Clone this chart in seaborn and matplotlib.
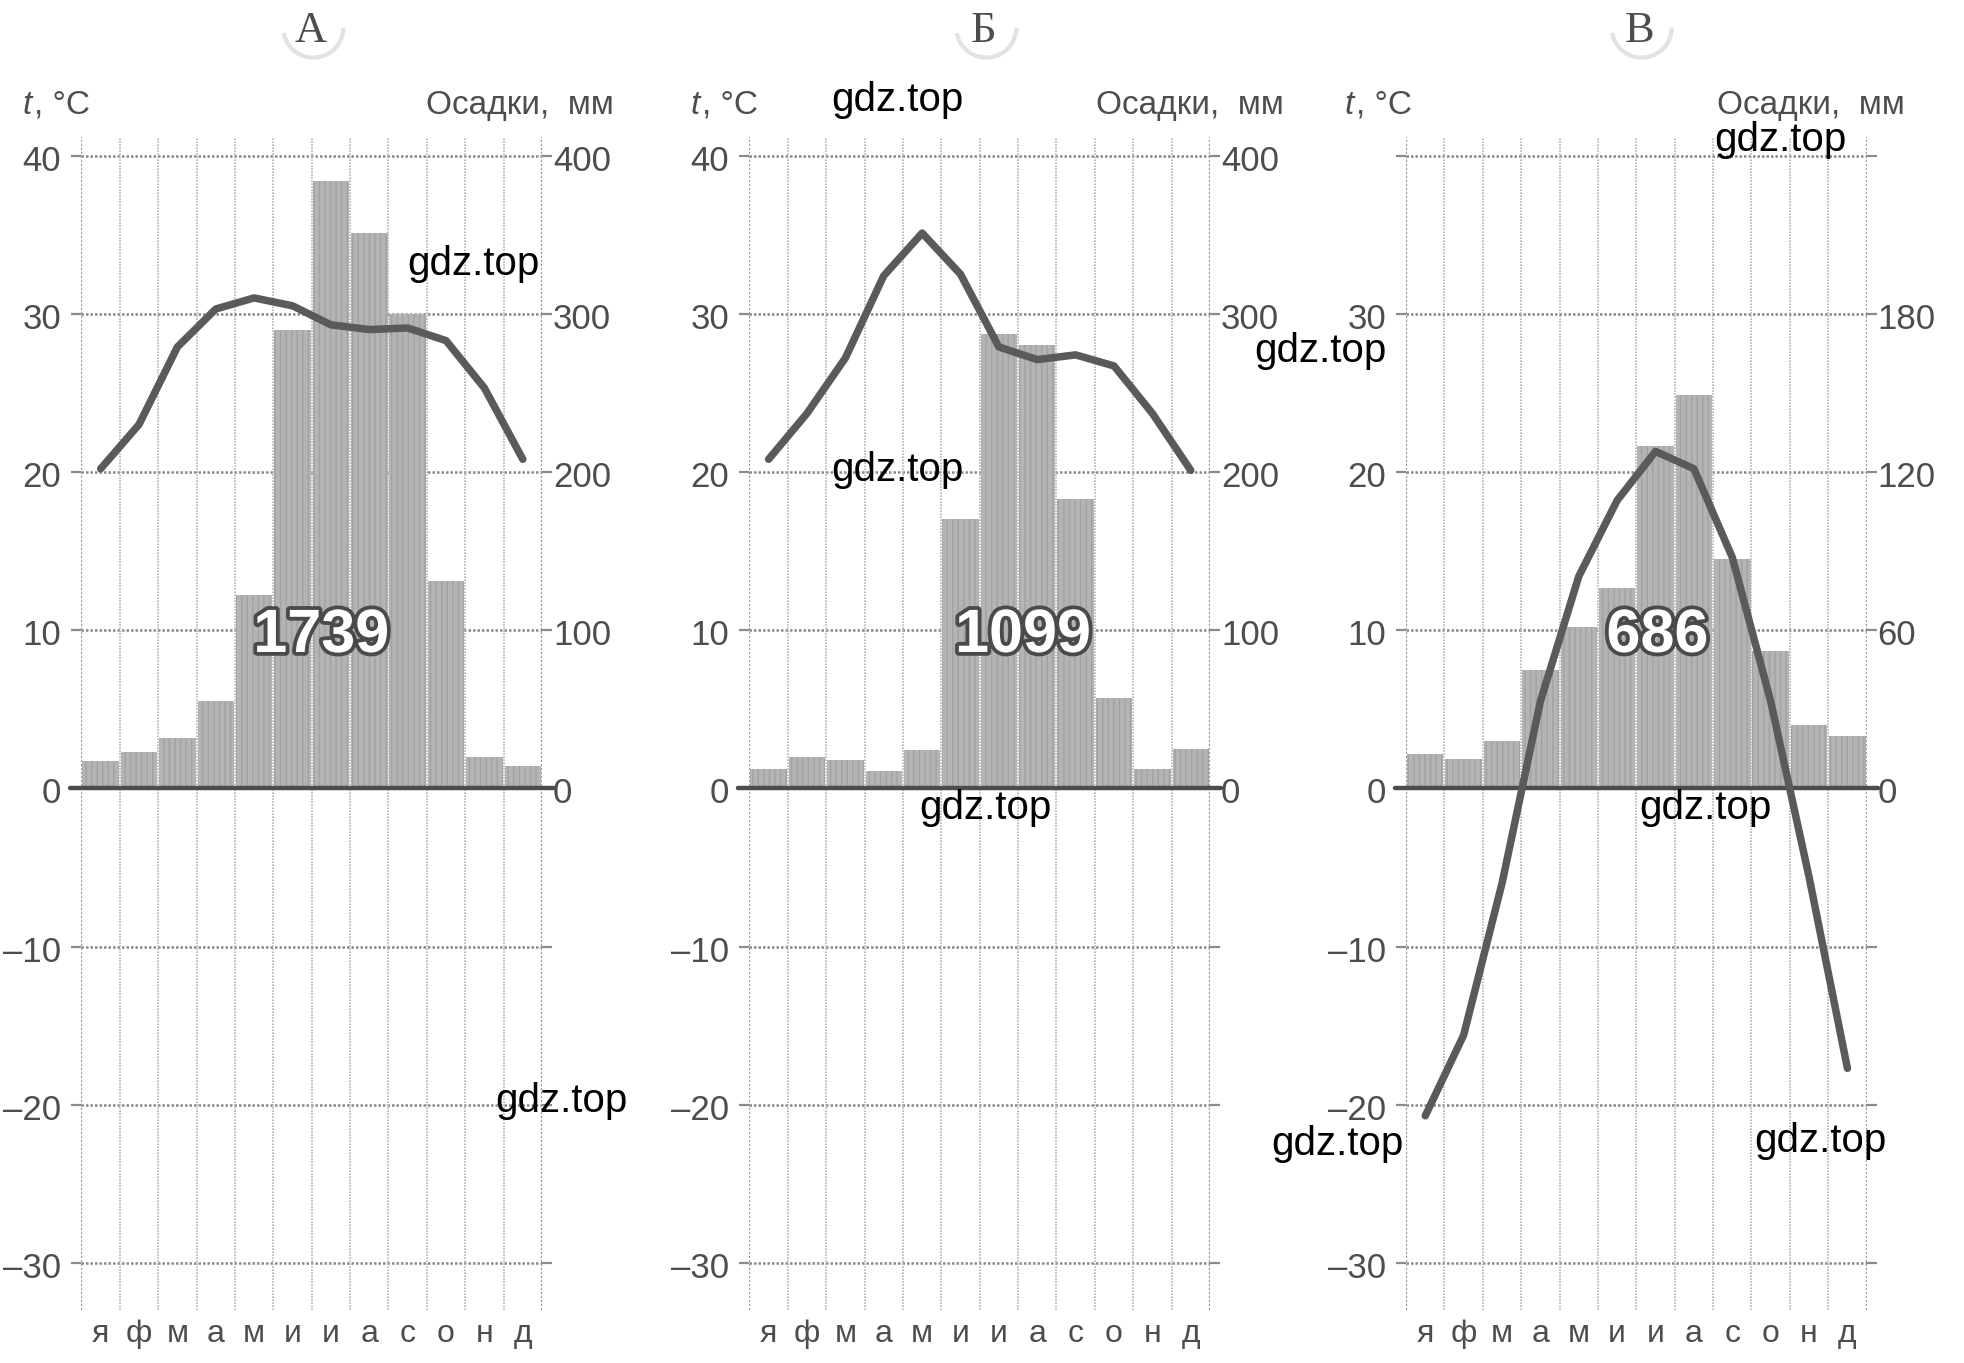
import numpy as np
import matplotlib
matplotlib.use("Agg")
import matplotlib.pyplot as plt
import matplotlib.patheffects as pe
import matplotlib.transforms as mtransforms
from matplotlib.patches import Arc
import seaborn as sns

# --- data ---
MONTHS = ["я", "ф", "м", "а", "м", "и", "и", "а", "с", "о", "н", "д"]
PANEL_NAMES = ["А", "Б", "В"]
TOTALS = ["1739", "1099", "686"]

temp_a = [20.2, 23.0, 27.9, 30.3, 31.0, 30.5, 29.3, 29.0, 29.1, 28.3, 25.3, 20.8]
prec_a = [17, 23, 32, 55, 122, 290, 384, 351, 300, 131, 20, 14]

temp_b = [20.8, 23.7, 27.2, 32.4, 35.1, 32.5, 27.9, 27.1, 27.4, 26.7, 23.7, 20.1]
prec_b = [12, 20, 18, 11, 24, 170, 287, 280, 183, 57, 12, 25]

temp_c = [-20.7, -15.6, -6.0, 5.5, 13.4, 18.2, 21.3, 20.2, 14.6, 5.5, -5.6, -17.7]
prec_c = [13, 11, 18, 45, 61, 76, 130, 149, 87, 52, 24, 20]

grid_temps = [-30, -20, -10, 0, 10, 20, 30, 40]
left_ticks_ab = [-30, -20, -10, 0, 10, 20, 30, 40]
left_ticks_c = [-30, -20, -10, 0, 10, 20, 30]
mm_per_deg = [10, 10, 6]
right_max = [400, 400, 180]

# --- style ---
TXT = "#4d4d4d"
GRID = "#8a8a8a"
VGRID = "#b4b4b4"
BAR = "#b4b4b4"
LINE = "#5a5a5a"
ZERO = "#4c4c4c"
YLIM = (-33.0, 41.2)

sns.set_style("white")
plt.rcParams["font.family"] = ["Liberation Sans", "DejaVu Sans"]

fig = plt.figure(figsize=(19.65, 13.63), dpi=100, facecolor="white")

W, H = 1568.0, 1088.0
lefts = [65, 598, 1122]
bottom = 1 - 1046 / H
height = (1046 - 109) / H
width = 367.5 / W

# tick labels sit a hair below their grid line in the original
down = mtransforms.ScaledTranslation(0, -2 / 100, fig.dpi_scale_trans)


def dash(v):
    return str(v).replace("-", "\u2013")


def draw_panel(i, temp, prec, left_ticks, total_x):
    k = mm_per_deg[i]
    ax = fig.add_axes([lefts[i] / W, bottom, width, height])
    axp = ax.twinx()
    ax.set_zorder(axp.get_zorder() + 1)
    ax.patch.set_visible(False)

    x = np.arange(12)
    # precipitation bars
    sns.barplot(x=x, y=prec, ax=axp, color=BAR, saturation=1, width=0.95,
                errorbar=None, edgecolor="#a2a2a2", linewidth=0, hatch="|||",
                zorder=2)
    # temperature curve
    sns.lineplot(x=x, y=temp, ax=ax, color=LINE, linewidth=5.4,
                 solid_capstyle="round", solid_joinstyle="round", zorder=5)

    ax.set_xlim(-0.5, 11.5)
    ax.set_ylim(*YLIM)
    axp.set_ylim(YLIM[0] * k, YLIM[1] * k)

    # horizontal grid (precip scale carries the lines + tick stubs)
    axp.set_yticks([t * k for t in grid_temps])
    axp.set_yticklabels([str(t * k) if 0 <= t * k <= right_max[i] else ""
                         for t in grid_temps])
    axp.yaxis.grid(True, linestyle=(0, (1, 0.8)), color=GRID, linewidth=1.8)
    axp.set_axisbelow(True)
    axp.tick_params(axis="y", left=True, right=True, labelleft=False,
                    labelright=True, length=7, width=1.6, color=GRID, pad=1,
                    labelsize=25, labelcolor=TXT)

    # month grid
    for b in np.arange(-0.5, 12, 1):
        edge = b in (-0.5, 11.5)
        axp.axvline(b, color="#999999" if edge else VGRID,
                    linewidth=1.6 if edge else 1.2,
                    linestyle=(0, (1, 0.8)), zorder=1)
    axp.axhline(0, xmin=-0.025, xmax=1.025, color=ZERO, linewidth=3.2,
                clip_on=False, zorder=3)

    ax.set_yticks(left_ticks)
    ax.set_yticklabels([dash(t) for t in left_ticks])
    ax.tick_params(axis="y", left=False, right=False, labelleft=True,
                   labelright=False, pad=11, labelsize=25, labelcolor=TXT)
    ax.set_xticks(x)
    ax.set_xticklabels(MONTHS)
    ax.tick_params(axis="x", length=0, pad=6, labelsize=23, labelcolor=TXT)
    for lab in ax.get_yticklabels() + axp.get_yticklabels():
        lab.set_transform(lab.get_transform() + down)
    ax.set_xlabel("")
    ax.set_ylabel("")
    axp.set_xlabel("")
    axp.set_ylabel("")
    for a in (ax, axp):
        for s in a.spines.values():
            s.set_visible(False)

    ax.text(total_x, 9.6, TOTALS[i], ha="center", va="center", fontsize=44,
            fontweight="bold", color="white", zorder=6,
            path_effects=[pe.withStroke(linewidth=5.5, foreground="#4a4a4a")])
    return ax


draw_panel(0, temp_a, prec_a, left_ticks_ab, 5.75)
draw_panel(1, temp_b, prec_b, left_ticks_ab, 6.63)
draw_panel(2, temp_c, prec_c, left_ticks_c, 6.05)

# panel letters with their faint round shadow
for name, cx in zip(PANEL_NAMES, [248, 785, 1308]):
    fig.text(cx / W, 1 - 25 / H, name, ha="center", va="center", fontsize=32,
             color=TXT, family=["Liberation Serif", "DejaVu Serif"])
    r = 24
    fig.patches.append(Arc(((cx + 2) / W, 1 - 22 / H), 2 * r / W, 2 * r / H,
                           theta1=195, theta2=360, color="#e2e2e2", lw=3,
                           transform=fig.transFigure))

# axis captions
for tx, rx in zip([18, 551, 1073], [490, 1024, 1520]):
    fig.text(tx / W, 1 - 84 / H, "t", style="italic", ha="left", va="center",
             fontsize=24, color=TXT)
    fig.text((tx + 9) / W, 1 - 84 / H, ", \u00b0C", ha="left", va="center",
             fontsize=24, color=TXT)
    fig.text(rx / W, 1 - 84 / H, "Осадки,  мм", ha="right", va="center",
             fontsize=24, color=TXT)

# watermarks
marks = [(378, 211), (716, 80), (1054, 280), (716, 375), (786, 645),
         (1421, 112), (1361, 645), (448, 879), (1067, 913), (1453, 911)]
for mx, my in marks:
    fig.text(mx / W, 1 - my / H, "gdz.top", ha="center", va="center",
             fontsize=29, color="black", zorder=10)

fig.savefig("out.png", dpi=100, facecolor="white")
plt.close(fig)
